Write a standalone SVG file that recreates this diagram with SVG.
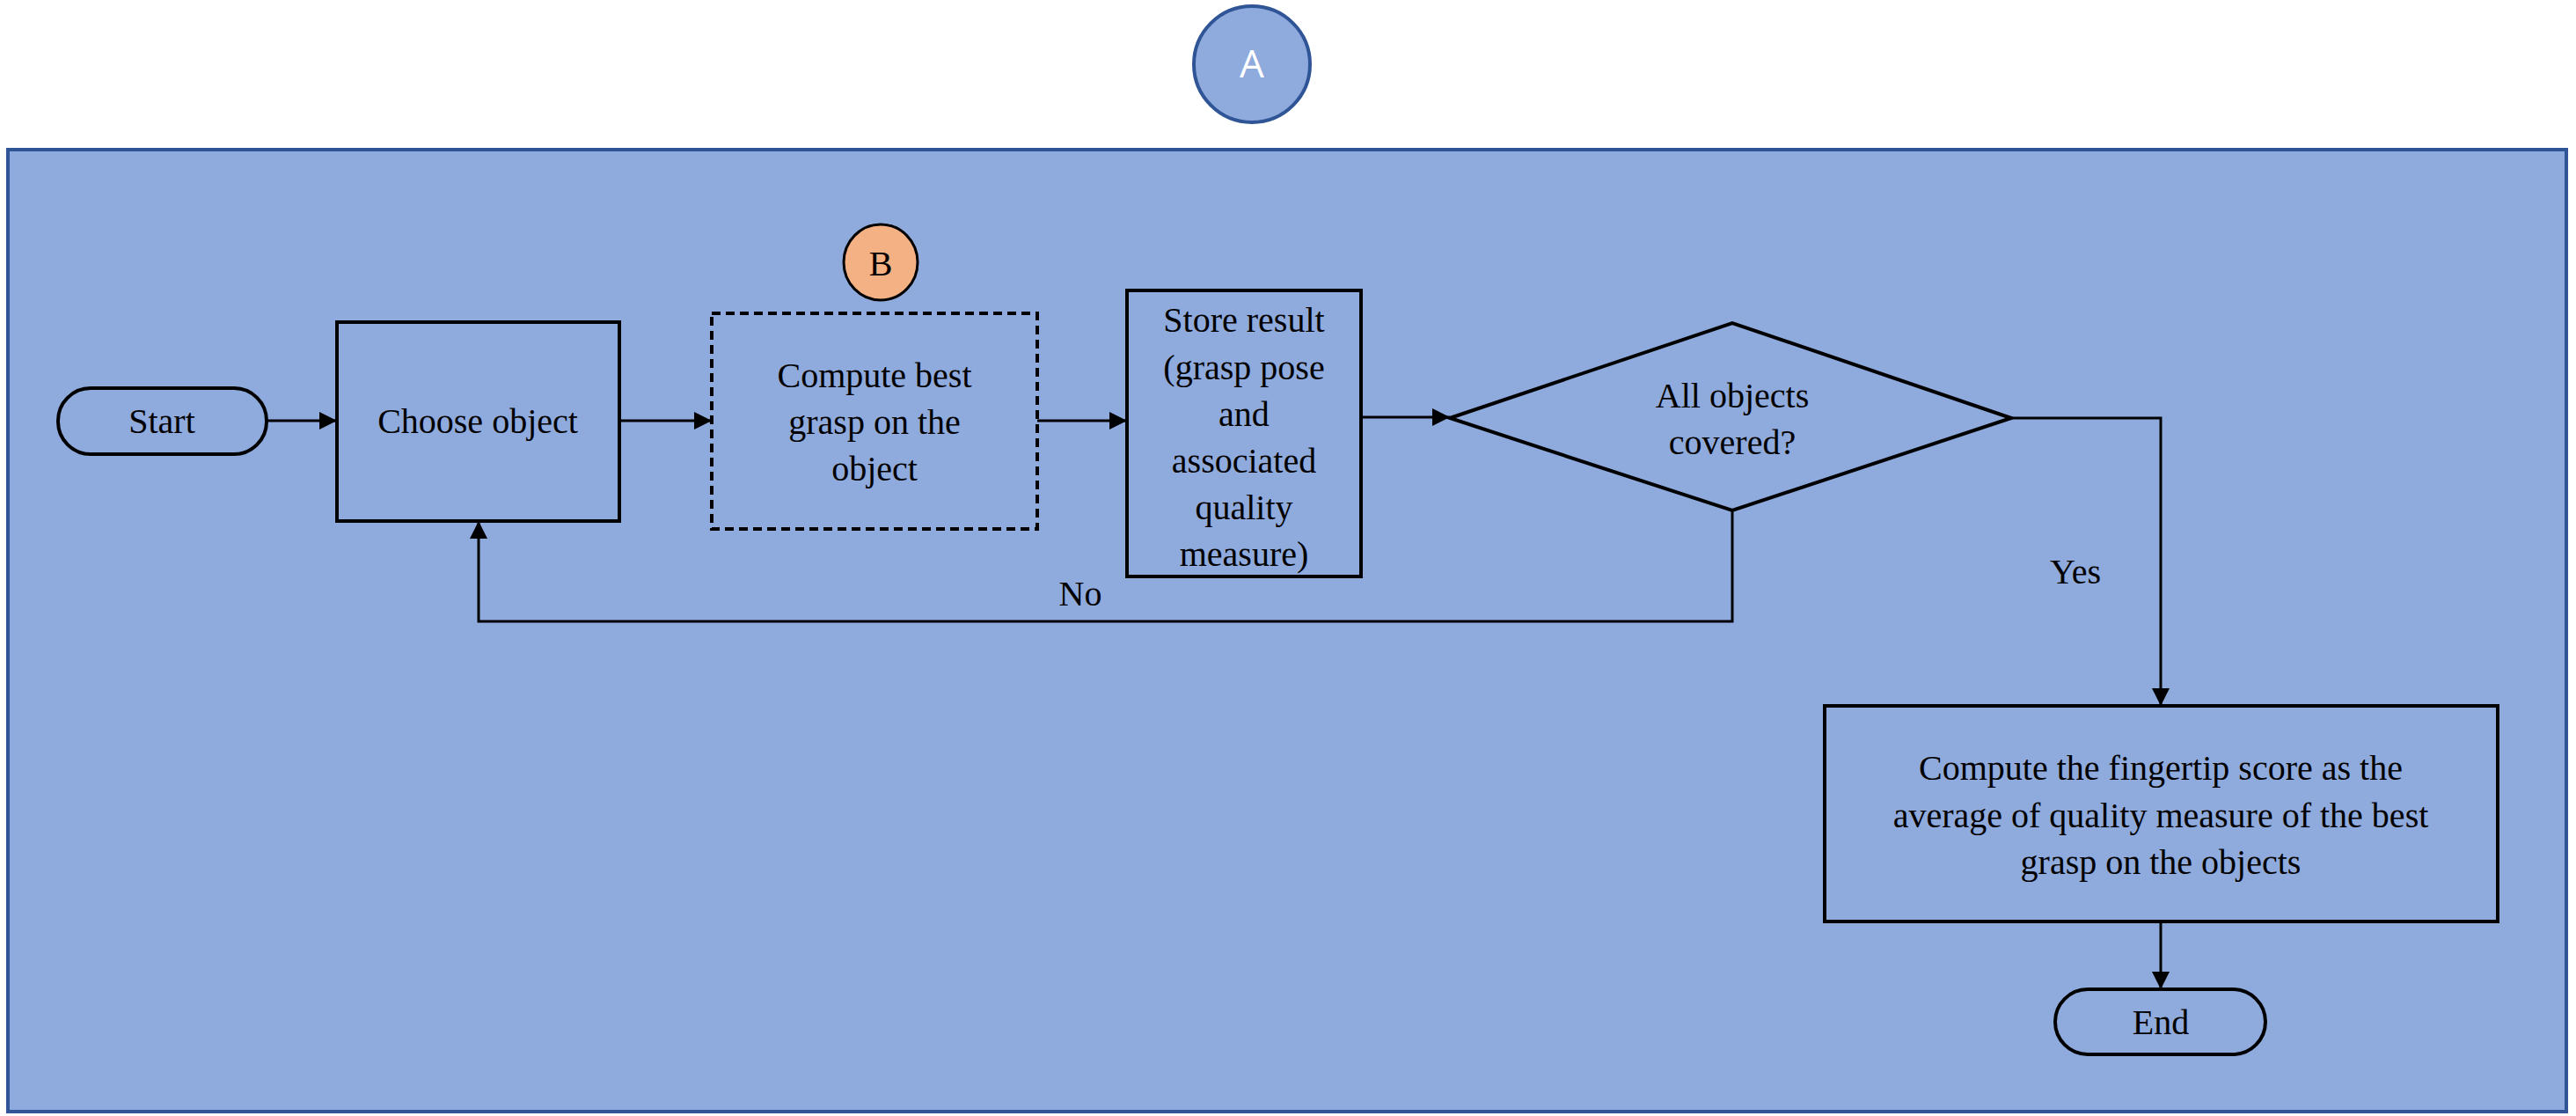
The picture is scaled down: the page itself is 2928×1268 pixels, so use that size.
<svg xmlns="http://www.w3.org/2000/svg" width="2928" height="1268" viewBox="0 0 2928 1268">
<style>
.t{font-family:"Liberation Serif","Times New Roman",serif;font-size:40px;fill:#000;text-anchor:middle}
.n{fill:none;stroke:#000;stroke-width:4}
.c{fill:none;stroke:#000;stroke-width:3}
</style>
<defs><marker id="ar" markerWidth="8" markerHeight="8" refX="7" refY="4" orient="auto" markerUnits="userSpaceOnUse" viewBox="0 0 8 8"><path d="M0,0L8,4L0,8z" fill="#000"/></marker>
<marker id="a" viewBox="0 0 10 10" refX="10" refY="5" markerWidth="20" markerHeight="20" markerUnits="userSpaceOnUse" orient="auto"><path d="M0,0L10,5L0,10z" fill="#000"/></marker></defs>
<rect width="2928" height="1268" fill="#fff"/>
<g id="A"><ellipse cx="1423" cy="73" rx="66" ry="66" fill="#8FAADC" stroke="#2F5597" stroke-width="4"/><text x="1423" y="88" font-family="Open Sans,sans-serif" font-size="44" fill="#fff" text-anchor="middle">A</text></g>
<g id="panel"><rect x="9" y="170" width="2908" height="1093" fill="#8FAADC" stroke="#2F5597" stroke-width="4"/></g>
<g id="connectors">
<path class="c" d="M303,478H383" marker-end="url(#a)"/>
<path class="c" d="M704,478H809" marker-end="url(#a)"/>
<path class="c" d="M1179,478H1281" marker-end="url(#a)"/>
<path class="c" d="M1547,474H1648" marker-end="url(#a)"/>
<path class="c" d="M1969,580V706H544V592" marker-end="url(#a)"/>
<path class="c" d="M2286,475H2456V802" marker-end="url(#a)"/>
<path class="c" d="M2456,1047V1124" marker-end="url(#a)"/>
<text class="t" x="1228" y="688">No</text>
<text class="t" x="2359" y="663">Yes</text>
</g>
<g id="start"><rect class="n" x="66" y="441" width="237" height="75" rx="37"/><text class="t" x="184" y="492">Start</text></g>
<g id="choose"><rect class="n" x="383" y="366" width="321" height="226"/><text class="t" x="543" y="492">Choose object</text></g>
<g id="B"><ellipse cx="1001" cy="298" rx="42" ry="43" fill="#F4B183" stroke="#000" stroke-width="3"/><text class="t" x="1001" y="313">B</text></g>
<g id="compute"><rect class="n" x="809" y="356" width="370" height="245" stroke-dasharray="10,6"/><text class="t" x="994" y="440">Compute best</text><text class="t" x="994" y="493">grasp on the</text><text class="t" x="994" y="546">object</text></g>
<g id="store"><rect class="n" x="1281" y="330" width="266" height="325"/><text class="t" x="1414" y="377">Store result</text><text class="t" x="1414" y="431">(grasp pose</text><text class="t" x="1414" y="484">and</text><text class="t" x="1414" y="537">associated</text><text class="t" x="1414" y="590">quality</text><text class="t" x="1414" y="643">measure)</text></g>
<g id="decision"><path class="n" d="M1648,475L1969,367L2286,475L1969,580z"/><text class="t" x="1969" y="463">All objects</text><text class="t" x="1969" y="516">covered?</text></g>
<g id="score"><rect class="n" x="2074" y="802" width="765" height="245"/><text class="t" x="2456" y="886">Compute the fingertip score as the</text><text class="t" x="2456" y="940">average of quality measure of the best</text><text class="t" x="2456" y="993">grasp on the objects</text></g>
<g id="end"><rect class="n" x="2336" y="1124" width="239" height="74" rx="37"/><text class="t" x="2456" y="1175">End</text></g>
</svg>
